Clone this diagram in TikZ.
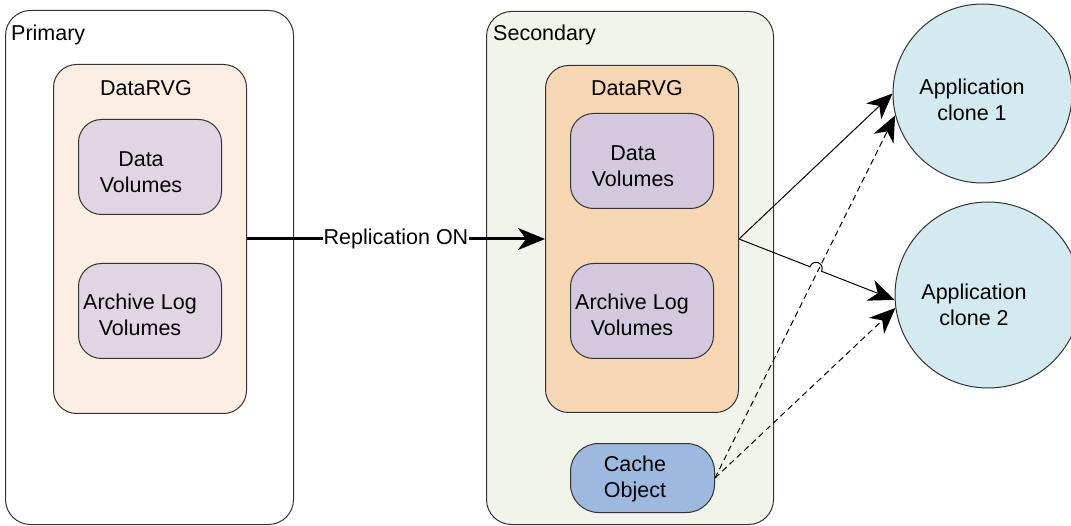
\documentclass[tikz,border=0pt]{standalone}
\usepackage{fontspec}
\setmainfont{Liberation Sans}
\usetikzlibrary{arrows.meta,calc}
\definecolor{pbg}{HTML}{FCEEE2}
\definecolor{sbg}{HTML}{F0F4EA}
\definecolor{srvg}{HTML}{F7D6B4}
\definecolor{pvol}{HTML}{E1D5E3}
\definecolor{svol}{HTML}{D4C8DF}
\definecolor{cachec}{HTML}{9DB9DF}
\definecolor{clonec}{HTML}{D2EAF0}
\definecolor{edge}{HTML}{333333}
\begin{document}
\begin{tikzpicture}[x=1pt,y=-1pt,
  box/.style={draw=edge, line width=1pt, inner sep=0pt, anchor=north west},
  txt/.style={font=\fontsize{21.5}{25.5}\selectfont, align=center, inner sep=0pt, text=black},
  clone/.style={circle, draw=edge, line width=1pt, fill=clonec, inner sep=0pt},
  tip/.style={-{Stealth[length=26pt,width=22pt,inset=8pt]}},
  conn/.style={line width=1pt, tip},
  dconn/.style={line width=1pt, tip, dash pattern=on 6pt off 4pt}]
\useasboundingbox (0,0) rectangle (1071,526);
% containers
\node[box, rounded corners=25pt, fill=white, minimum width=288pt, minimum height=514pt] (prim) at (5,10) {};
\node[box, rounded corners=25pt, fill=sbg, minimum width=287pt, minimum height=513pt] (sec) at (486,11) {};
\node[txt, anchor=west] (primt) at (11,35) {Primary};
\node[txt, anchor=west] (sect) at (493,35) {Secondary};
% DataRVG groups
\node[box, rounded corners=23pt, fill=pbg, minimum width=193pt, minimum height=349pt] (prvg) at (53,64) {};
\node[box, rounded corners=23pt, fill=srvg, minimum width=193pt, minimum height=347pt] (srvg) at (545,65) {};
\node[txt] (prvgt) at (146,88) {DataRVG};
\node[txt] (srvgt) at (637,88) {DataRVG};
% volumes
\node[box, rounded corners=23pt, fill=pvol, minimum width=143pt, minimum height=95pt] (pdata) at (78,119) {};
\node[box, rounded corners=23pt, fill=pvol, minimum width=143pt, minimum height=95pt] (parch) at (78,263) {};
\node[box, rounded corners=23pt, fill=svol, minimum width=143pt, minimum height=95pt] (sdata) at (570,113) {};
\node[box, rounded corners=23pt, fill=svol, minimum width=143pt, minimum height=95pt] (sarch) at (570,263) {};
\node[box, rounded corners=28pt, fill=cachec, minimum width=144pt, minimum height=69pt] (cache) at (570,443) {};
\node[txt] (pdatat) at (141,172) {Data\\Volumes};
\node[txt] (parcht) at (140,315) {Archive Log\\Volumes};
\node[txt] (sdatat) at (633,166) {Data\\Volumes};
\node[txt] (sarcht) at (632,315) {Archive Log\\Volumes};
\node[txt] (cachet) at (635,479) {Cache\\Object};
% clones
\node[clone, minimum size=179pt] (c1) at (982.5,93.5) {};
\node[clone, minimum size=186pt] (c2) at (988,295) {};
\node[txt] (c1t) at (972,100) {Application\\clone 1};
\node[txt] (c2t) at (974,305) {Application\\clone 2};
% replication
\draw[line width=3pt, -{Stealth[length=27pt,width=22pt,inset=8pt]}] (prvg.east) -- node[txt, fill=white, inner xsep=1pt, inner ysep=2pt] (rept) {Replication ON} (srvg.west);
% solid connectors
\draw[conn] (srvg.east) -- (c1.180);
\coordinate (hopA) at ($(srvg.east)!0.456!(c2.183)$);
\coordinate (hopB) at ($(srvg.east)!0.531!(c2.183)$);
\draw[conn] (srvg.east) -- (hopA) .. controls ($(hopA)!9pt!90:(hopB)$) and ($(hopB)!9pt!-90:(hopA)$) .. (hopB) -- (c2.183);
% dashed connectors
\draw[dconn] (cache.east) -- (c1.194);
\draw[dconn] (cache.east) -- (c2.188);
\end{tikzpicture}
\end{document}
